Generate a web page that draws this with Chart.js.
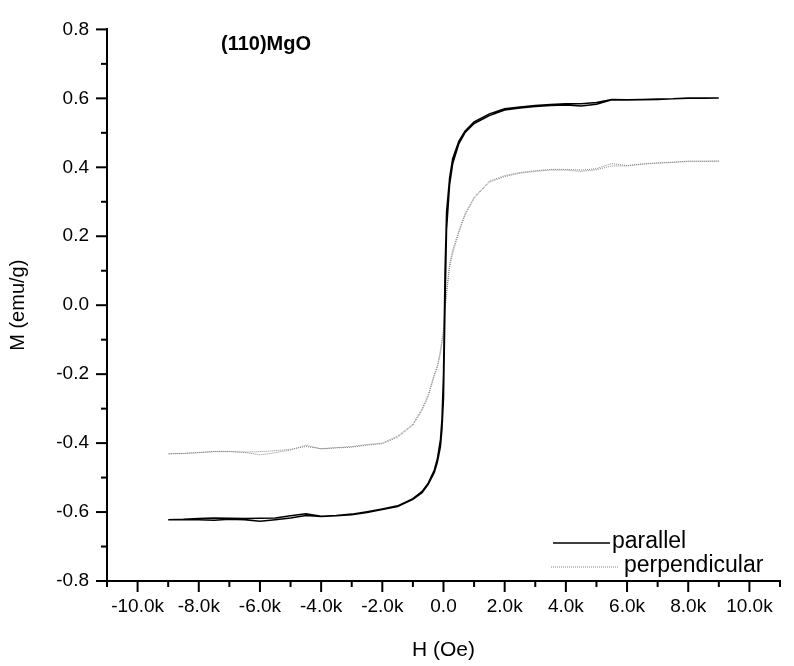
<!DOCTYPE html>
<html>
<head>
<meta charset="utf-8">
<script src="https://cdn.jsdelivr.net/npm/chart.js@4"></script>
<style>
  body { margin: 0; background: #fff; }
  #wrap { width: 794px; height: 666px; }
</style>
</head>
<body>
<div id="wrap"><canvas id="loop-chart" width="794" height="666"></canvas></div>
<script>
// field sweep (Oe), descending order; the return branch uses the same fields
const fieldOe = [9000, 8500, 8000, 7500, 7000, 6500, 6000, 5500, 5000, 4500, 4000, 3500, 3000, 2500, 2000, 1500, 1000, 700, 500, 300, 200, 100, 50, 0, -50, -100, -200, -300, -500, -700, -1000, -1500, -2000, -2500, -3000, -3500, -4000, -4500, -5000, -5500, -6000, -6500, -7000, -7500, -8000, -8500, -9000];

// M (emu/g), index-aligned with fieldOe
const parallelDown = [0.601, 0.601, 0.601, 0.599, 0.598, 0.597, 0.596, 0.597, 0.588, 0.584, 0.584, 0.582, 0.579, 0.575, 0.570, 0.555, 0.532, 0.505, 0.475, 0.425, 0.370, 0.270, 0.100, -0.200, -0.330, -0.390, -0.445, -0.478, -0.516, -0.540, -0.561, -0.582, -0.591, -0.599, -0.606, -0.610, -0.612, -0.605, -0.611, -0.617, -0.618, -0.619, -0.618, -0.617, -0.619, -0.621, -0.622];
const parallelUp = [0.601, 0.600, 0.600, 0.599, 0.597, 0.596, 0.595, 0.596, 0.583, 0.578, 0.581, 0.579, 0.576, 0.572, 0.566, 0.550, 0.527, 0.500, 0.468, 0.410, 0.350, 0.220, 0.000, -0.270, -0.360, -0.410, -0.455, -0.485, -0.520, -0.544, -0.563, -0.584, -0.593, -0.601, -0.608, -0.611, -0.613, -0.610, -0.617, -0.622, -0.627, -0.622, -0.621, -0.624, -0.622, -0.622, -0.622];
const perpDown = [0.418, 0.417, 0.418, 0.415, 0.413, 0.410, 0.405, 0.411, 0.396, 0.392, 0.394, 0.394, 0.390, 0.385, 0.376, 0.360, 0.313, 0.265, 0.215, 0.160, 0.120, 0.040, 0.000, -0.070, -0.100, -0.130, -0.175, -0.200, -0.260, -0.300, -0.345, -0.380, -0.400, -0.404, -0.410, -0.413, -0.416, -0.410, -0.418, -0.422, -0.425, -0.426, -0.425, -0.425, -0.428, -0.430, -0.431];
const perpUp = [0.418, 0.418, 0.417, 0.414, 0.412, 0.409, 0.404, 0.404, 0.393, 0.388, 0.392, 0.392, 0.388, 0.383, 0.373, 0.357, 0.310, 0.260, 0.210, 0.150, 0.110, 0.030, -0.010, -0.080, -0.110, -0.140, -0.180, -0.205, -0.265, -0.305, -0.348, -0.383, -0.402, -0.406, -0.412, -0.414, -0.417, -0.406, -0.420, -0.428, -0.434, -0.427, -0.424, -0.424, -0.427, -0.430, -0.431];

const seriesNames = ['parallel', 'perpendicular'];
const titleText = '(110)MgO';

// down branch then back up, so the loop is one continuous line
const makeLoop = (down, up) => {
    const goDown = fieldOe.map((h, i) => ({ x: h, y: down[i] }));
    const goUp = fieldOe.map((h, i) => ({ x: h, y: up[i] })).reverse();
    return goDown.concat(goUp);
};

const FONT = '"Liberation Sans", Arial, sans-serif';
Chart.defaults.font.family = FONT;
Chart.defaults.color = '#000';

// outward major/minor tick marks (chart.js has no minor ticks)
const axisTicks = {
    id: 'axisTicks',
    afterDraw(chart) {
        const { ctx, scales: { x, y } } = chart;
        ctx.save();
        ctx.strokeStyle = '#000';
        ctx.lineWidth = 2;
        x.ticks.forEach(t => {
            const px = x.getPixelForValue(t.value);
            const len = Math.round(t.value) % 2000 === 0 ? 11 : 6;
            ctx.beginPath(); ctx.moveTo(px, x.top); ctx.lineTo(px, x.top + len); ctx.stroke();
        });
        y.ticks.forEach(t => {
            const py = y.getPixelForValue(t.value);
            const len = Math.round(t.value * 10) % 2 === 0 ? 11 : 6;
            ctx.beginPath(); ctx.moveTo(y.right, py); ctx.lineTo(y.right - len, py); ctx.stroke();
        });
        ctx.restore();
    }
};

// sample label and legend box like the original plot
const notes = {
    id: 'notes',
    afterDraw(chart) {
        const ctx = chart.ctx;
        ctx.save();
        ctx.fillStyle = '#000';
        ctx.textBaseline = 'middle';
        ctx.font = 'bold 20px ' + FONT;
        ctx.fillText(titleText, 221, 44);

        ctx.font = '23px ' + FONT;
        const rows = [
            { y: 543, color: '#000', width: 1.5, dash: [], x0: 553, x1: 610, tx: 612 },
            { y: 567, color: '#888', width: 1, dash: [1, 1], x0: 551, x1: 618, tx: 624 }
        ];
        rows.forEach((r, i) => {
            ctx.strokeStyle = r.color;
            ctx.lineWidth = r.width;
            ctx.setLineDash(r.dash);
            ctx.beginPath(); ctx.moveTo(r.x0, r.y); ctx.lineTo(r.x1, r.y); ctx.stroke();
            ctx.fillText(seriesNames[i], r.tx, r.y - 1);
        });
        ctx.restore();
    }
};

const ctx = document.getElementById('loop-chart').getContext('2d');
const loopChart = new Chart(ctx, {
    type: 'scatter',
    data: {
        datasets: [{
            label: seriesNames[0],
            data: makeLoop(parallelDown, parallelUp),
            showLine: true,
            borderColor: '#000',
            borderWidth: 1.5,
            pointRadius: 0,
            tension: 0
        }, {
            label: seriesNames[1],
            data: makeLoop(perpDown, perpUp),
            showLine: true,
            borderColor: '#888',
            borderWidth: 1,
            borderDash: [1, 1],
            pointRadius: 0,
            tension: 0
        }]
    },
    options: {
        responsive: false,
        animation: false,
        layout: { padding: { top: 25, right: 4, left: 0, bottom: 0 } },
        plugins: {
            legend: { display: false },
            tooltip: { enabled: false }
        },
        scales: {
            x: {
                type: 'linear',
                min: -11000,
                max: 11000,
                afterFit: s => { s.height = 85; },
                ticks: {
                    stepSize: 1000,
                    autoSkip: false,
                    maxRotation: 0,
                    padding: 14,
                    font: { size: 19 },
                    callback: v => {
                        if (Math.round(v) % 2000 !== 0) return '';
                        return v === 0 ? '0.0' : (v / 1000).toFixed(1) + 'k';
                    }
                },
                grid: { drawOnChartArea: false, drawTicks: false },
                border: { display: true, color: '#000', width: 2 },
                title: { display: true, text: 'H (Oe)', font: { size: 21 }, padding: { top: 0, bottom: 3 } }
            },
            y: {
                min: -0.8,
                max: 0.8,
                afterFit: s => { s.width = 107; },
                ticks: {
                    stepSize: 0.1,
                    autoSkip: false,
                    padding: 18,
                    font: { size: 19 },
                    callback: v => Math.round(v * 10) % 2 === 0 ? v.toFixed(1) : ''
                },
                grid: { drawOnChartArea: false, drawTicks: false },
                border: { display: true, color: '#000', width: 2 },
                title: { display: true, text: 'M (emu/g)', font: { size: 20 }, padding: { top: 6, bottom: 0 } }
            }
        }
    },
    plugins: [axisTicks, notes]
});
</script>
</body>
</html>
